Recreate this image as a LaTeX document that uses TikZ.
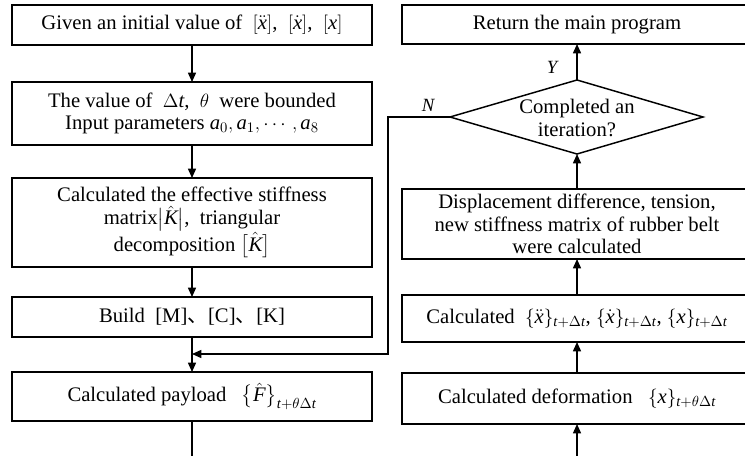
\documentclass[tikz,border=0pt]{standalone}
\usepackage{amsmath}
\usepackage{fontspec}
\setmainfont{Liberation Serif}
\newfontfamily\cjkfont{Noto Sans CJK SC}
\newcommand\mv[1]{\textit{#1}}
\usetikzlibrary{arrows.meta,calc}
\begin{document}
\begin{tikzpicture}[x=0.75pt,y=-0.75pt,
 every node/.style={font=\fontsize{15.5}{17}\selectfont, align=center, inner sep=0pt, outer sep=0pt},
 lbox/.style={draw, line width=1.1pt, minimum width=270pt},
 rbox/.style={draw, line width=1.1pt, minimum width=262.5pt},
 conn/.style={line width=1.1pt},
 arr/.style={conn, -{Triangle[length=7pt,width=6pt]}},
 lab/.style={font=\fontsize{14}{16}\selectfont\itshape}]
\useasboundingbox (0,0) rectangle (745,456);
\fill[white] (0,0) rectangle (745,456);
% left column
\node[lbox, minimum height=30pt] (b1) at (192,25) {Given an initial value of\ \ $[\ddot{\mv{x}}]$,\ \ $[\dot{\mv{x}}]$,\ \ $[\mv{x}]$};
\node[lbox, minimum height=47.25pt] (b2) at (192,113.5) {The value of\ \ $\Delta \mv{t}$,\ \ $\theta$\ \ were bounded\\Input parameters $\mv{a}_0, \mv{a}_1, \cdots, \mv{a}_8$};
\node[lbox, minimum height=66.75pt] (b3) at (192,222.5) {Calculated the effective stiffness\\matrix$\bigl|\hat{\mv{K}}\bigr|$,\ \ triangular\\decomposition $\bigl[\hat{\mv{K}}\bigr]$};
\node[lbox, minimum height=30pt] (b4) at (192,317) {Build\ \ [M]{\cjkfont 、}[C]{\cjkfont 、}[K]};
\node[lbox, minimum height=36.75pt] (b5) at (192,396.5) {Calculated payload\ \ \ $\bigl\{\hat{\mv{F}}\bigr\}_{\mv{t}+\theta\Delta \mv{t}}$};
% right column
\node[rbox, minimum height=29.25pt] (r1) at (577,24.5) {Return the main program};
\node (dec) at (577,118) {Completed an\\iteration?};
\coordinate (dT) at (577,80);
\coordinate (dR) at (703,117);
\coordinate (dB) at (577,154);
\coordinate (dL) at (450,117);
\draw[conn] (dT) -- (dR) -- (dB) -- (dL) -- cycle;
\node[rbox, minimum height=52.5pt] (r2) at (577,224) {Displacement difference, tension,\\new stiffness matrix of rubber belt\\were calculated};
\node[rbox, minimum height=35.25pt] (r3) at (577,318.5) {Calculated\ \ $\{\ddot{\mv{x}}\}_{\mv{t}+\Delta \mv{t}}$,\ $\{\dot{\mv{x}}\}_{\mv{t}+\Delta \mv{t}}$,\ $\{\mv{x}\}_{\mv{t}+\Delta \mv{t}}$};
\node[rbox, minimum height=38.25pt] (r4) at (577,398.5) {Calculated deformation\ \ \ $\{\mv{x}\}_{\mv{t}+\theta\Delta \mv{t}}$};
% connectors left
\draw[arr] (b1.south) -- (b2.north);
\draw[arr] (b2.south) -- (b3.north);
\draw[arr] (b3.south) -- (b4.north);
\draw[arr] (b4.south) -- (b5.north);
\coordinate (botL) at (192,460);
\draw[conn] (b5.south) -- (botL);
% feedback
\coordinate (nTurn) at (388,117);
\coordinate (merge) at (192,354);
\draw[arr] (dL) -- (nTurn) |- (merge);
\node[lab] (nlab) at (428,105) {N};
% connectors right
\coordinate (botR) at (577,460);
\draw[arr] (botR) -- (r4.south);
\draw[arr] (r4.north) -- (r3.south);
\draw[arr] (r3.north) -- (r2.south);
\draw[arr] (r2.north) -- (dB);
\draw[arr] (dT) -- (r1.south);
\node[lab] (ylab) at (552,67) {Y};
\end{tikzpicture}
\end{document}
